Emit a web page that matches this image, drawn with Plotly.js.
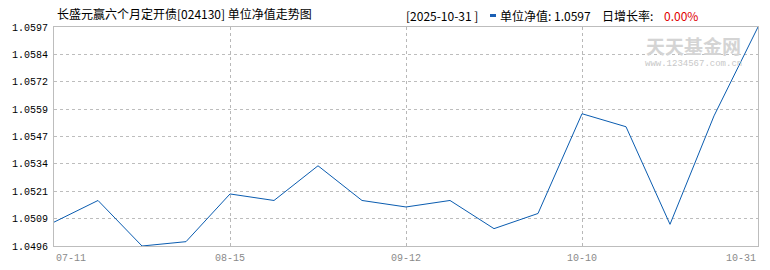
<!DOCTYPE html>
<html>
<head>
<meta charset="utf-8">
<script src="https://cdn.plot.ly/plotly-3.0.1.min.js"></script>
<style>html,body{margin:0;padding:0;background:#fff;}#chart{width:770px;height:270px;}</style>
</head>
<body>
<div id="chart"></div>
<script>
// ---- data ----
var dates = ['07-11','07-18','07-25','08-01','08-15','08-22','08-29','09-05','09-12','09-19','09-26','09-30','10-10','10-17','10-24','10-30','10-31'];
var nav = [1.0507,1.0517,1.0496,1.0498,1.0520,1.0517,1.0533,1.0517,1.0514,1.0517,1.0504,1.0511,1.0557,1.0551,1.0506,1.0556,1.0597];
var yTickLabels = ['1.0496','1.0509','1.0521','1.0534','1.0547','1.0559','1.0572','1.0584','1.0597'];
var xLabelDates = ['07-11','08-15','09-12','10-10','10-31'];
var titleText = '长盛元赢六个月定开债[024130] 单位净值走势图';
var headerDate = '[2025-10-31 ]';
var headerNav = '单位净值: 1.0597';
var headerRateLabel = '日增长率: ';
var headerRate = '0.00%';

// ---- layout geometry ----
var W = 770, H = 270;
var L = 54, R = 12, T = 27, B = 24;
var pw = W - L - R, ph = H - T - B;
function px(x){ return (x - L) / pw; }
function py(y){ return (H - B - y) / ph; }

var yMin = parseFloat(yTickLabels[0]);
var yMax = parseFloat(yTickLabels[yTickLabels.length - 1]);
var yTickVals = yTickLabels.map(function(_, i){ return yMin + (yMax - yMin) * i / (yTickLabels.length - 1); });

var annotations = [];
var cjk = '"Noto Sans CJK SC", sans-serif';
var mono = '"Liberation Mono", "DejaVu Sans Mono", monospace';

// x labels
xLabelDates.forEach(function(d, i){
  var anchor = i === 0 ? 'left' : (i === xLabelDates.length - 1 ? 'right' : 'center');
  annotations.push({
    xref: 'x', yref: 'paper', x: dates.indexOf(d), y: py(258),
    text: d, showarrow: false, xanchor: anchor, yanchor: 'middle',
    font: {family: mono, size: 10, color: '#8a8a8a'}
  });
});

// header
annotations.push({xref:'paper', yref:'paper', x: px(404), y: py(15), xanchor:'left', yanchor:'middle', showarrow:false,
  text: headerDate, font:{family: cjk, size: 12, color:'#000'}});
annotations.push({xref:'paper', yref:'paper', x: px(498), y: py(15), xanchor:'left', yanchor:'middle', showarrow:false,
  text: headerNav, font:{family: cjk, size: 12, color:'#000'}});
annotations.push({xref:'paper', yref:'paper', x: px(600), y: py(15), xanchor:'left', yanchor:'middle', showarrow:false,
  text: headerRateLabel, font:{family: cjk, size: 12, color:'#000'}});
annotations.push({xref:'paper', yref:'paper', x: px(662), y: py(15), xanchor:'left', yanchor:'middle', showarrow:false,
  text: headerRate, font:{family: cjk, size: 12, color:'#e00000'}});

// watermark
annotations.push({xref:'paper', yref:'paper', x: px(693), y: py(45), xanchor:'center', yanchor:'middle', showarrow:false,
  text: '<b>天天基金网</b>', font:{family: cjk, size: 19, color:'#d4d4d4'}});
annotations.push({xref:'paper', yref:'paper', x: px(693), y: py(64), xanchor:'center', yanchor:'middle', showarrow:false,
  text: 'www.1234567.com.cn', font:{family: mono, size: 9, color:'#c8c8c8'}});

var shapes = [{
  type:'rect', xref:'paper', yref:'paper', x0: px(490), x1: px(496), y0: py(17), y1: py(14),
  fillcolor:'#1a5fb4', line:{width:0}
}];

var trace = {
  x: dates, y: nav, type: 'scatter', mode: 'lines',
  line: {color: '#0a5cb0', width: 1}, hoverinfo: 'none', showlegend: false
};

var layout = {
  width: W, height: H,
  margin: {l: L, r: R, t: T, b: B, pad: 0},
  paper_bgcolor: '#fff', plot_bgcolor: '#fff',
  title: {text: titleText, x: 57 / W, xanchor: 'left', xref: 'container',
          y: 1 - 15 / H, yanchor: 'middle', yref: 'container',
          font: {family: cjk, size: 12, color: '#000'}},
  xaxis: {
    type: 'category', range: [0, dates.length - 1],
    tickmode: 'array', tickvals: xLabelDates.slice(1, -1), showticklabels: false,
    showgrid: true, gridcolor: '#b8b8b8', griddash: '3px,3px', gridwidth: 1,
    showline: true, linecolor: '#bdbdbd', linewidth: 1, mirror: true,
    zeroline: false, ticks: '', fixedrange: true
  },
  yaxis: {
    range: [yMin, yMax], tickmode: 'array', tickvals: yTickVals, ticktext: yTickLabels,
    tickfont: {family: mono, size: 10, color: '#000'}, ticklabelstandoff: 3,
    showgrid: true, gridcolor: '#bdbdbd', griddash: '3px,3px', gridwidth: 1,
    showline: true, linecolor: '#bdbdbd', linewidth: 1, mirror: true,
    zeroline: false, ticks: '', fixedrange: true
  },
  annotations: annotations,
  shapes: shapes,
  showlegend: false
};

Plotly.newPlot('chart', [trace], layout, {staticPlot: true, displayModeBar: false});
</script>
</body>
</html>
